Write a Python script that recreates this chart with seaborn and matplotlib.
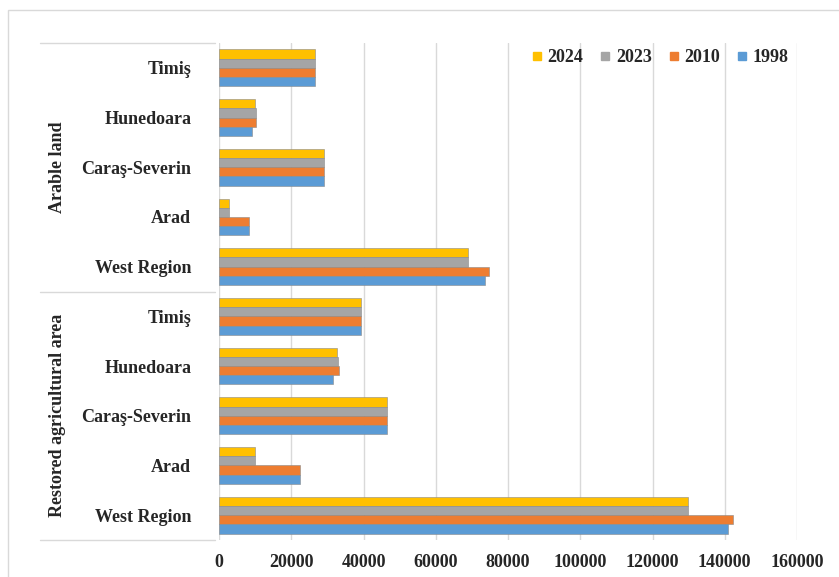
import matplotlib
matplotlib.use("Agg")
import matplotlib.pyplot as plt
import seaborn as sns
import pandas as pd
from matplotlib.lines import Line2D
from matplotlib.patches import Rectangle

# ---- data ----
groups = ["Arable land", "Restored agricultural area"]
counties = ["Timiş", "Hunedoara", "Caraş-Severin", "Arad", "West Region"]
years = ["2024", "2023", "2010", "1998"]
colors = ["#FFC000", "#A5A5A5", "#ED7D31", "#5B9BD5"]

arable_2024 = [26500, 10000, 29200, 2900, 69000]
arable_2023 = [26500, 10200, 29200, 2900, 69000]
arable_2010 = [26500, 10200, 29200, 8300, 74800]
arable_1998 = [26500, 9100, 29200, 8300, 73600]

restored_2024 = [39200, 32700, 46600, 10000, 129900]
restored_2023 = [39200, 33000, 46600, 10000, 129900]
restored_2010 = [39200, 33300, 46600, 22400, 142400]
restored_1998 = [39200, 31500, 46600, 22400, 140800]

xticks = [0, 20000, 40000, 60000, 80000, 100000, 120000, 140000, 160000]

# ---- build long table ----
series = {
    groups[0]: dict(zip(years, [arable_2024, arable_2023, arable_2010, arable_1998])),
    groups[1]: dict(zip(years, [restored_2024, restored_2023, restored_2010, restored_1998])),
}
rows = []
order = []
for g in groups:
    for i, c in enumerate(counties):
        key = f"{g}|{c}"
        order.append(key)
        for y in years:
            rows.append({"key": key, "year": y, "value": series[g][y][i]})
df = pd.DataFrame(rows)

sns.set_theme(style="white")
plt.rcParams["font.family"] = ["Liberation Serif", "DejaVu Serif"]
plt.rcParams["font.weight"] = "bold"

fig = plt.figure(figsize=(8.39, 5.77), dpi=100)
ax = fig.add_axes([219 / 839, 1 - 540 / 577, (797 - 219) / 839, (540 - 43) / 577])

sns.barplot(data=df, y="key", x="value", hue="year", order=order,
            hue_order=years, palette=colors, orient="h", width=0.74,
            saturation=1, edgecolor="#8a8a8a", linewidth=0.4, ax=ax, legend=False)

ax.set_xlim(0, 160000)
ax.set_xticks(xticks)
ax.set_xticklabels([str(t) for t in xticks], fontsize=13, fontweight="bold")
ax.set_yticks(range(len(order)))
ax.set_yticklabels([k.split("|")[1] for k in order], fontsize=13, fontweight="bold")
ax.set_xlabel("")
ax.set_ylabel("")
ax.tick_params(axis="y", length=0, pad=20)
ax.tick_params(axis="x", length=0, pad=10)
for s in ax.spines.values():
    s.set_visible(False)
ax.xaxis.grid(True, color="#d9d9d9", linewidth=1)
ax.yaxis.grid(False)
ax.set_axisbelow(True)

# separators between groups
trans = ax.get_yaxis_transform()
x0 = (40 - 219) / (797 - 219)
x1 = (215 - 219) / (797 - 219)
for yv in [-0.5, 4.5, 9.5]:
    ax.add_line(Line2D([x0, x1], [yv, yv], transform=trans, color="#d9d9d9",
                       linewidth=1, clip_on=False))

# group labels
xg = (57 - 219) / (797 - 219)
ax.text(xg, 2, groups[0], transform=trans, rotation=90, ha="center", va="center",
        fontsize=13, fontweight="bold")
ax.text(xg, 7, groups[1], transform=trans, rotation=90, ha="center", va="center",
        fontsize=13, fontweight="bold")

# legend
handles = [Line2D([], [], marker="s", linestyle="none", markersize=6,
                  markerfacecolor=c, markeredgecolor=c) for c in colors]
leg = ax.legend(handles, years, loc="center", bbox_to_anchor=((660 - 219) / 578, 1 - (58 - 43) / 497),
                ncol=4, frameon=False, handlelength=0.6, handletextpad=0.3,
                columnspacing=0.9, prop={"size": 13, "weight": "bold"})

# outer frame
fig.patches.append(Rectangle((8 / 839, -0.02), 1.0, 1 - 10 / 577 + 0.02,
                             transform=fig.transFigure, fill=False,
                             edgecolor="#d9d9d9", linewidth=1))

fig.savefig("out.png", dpi=100)
